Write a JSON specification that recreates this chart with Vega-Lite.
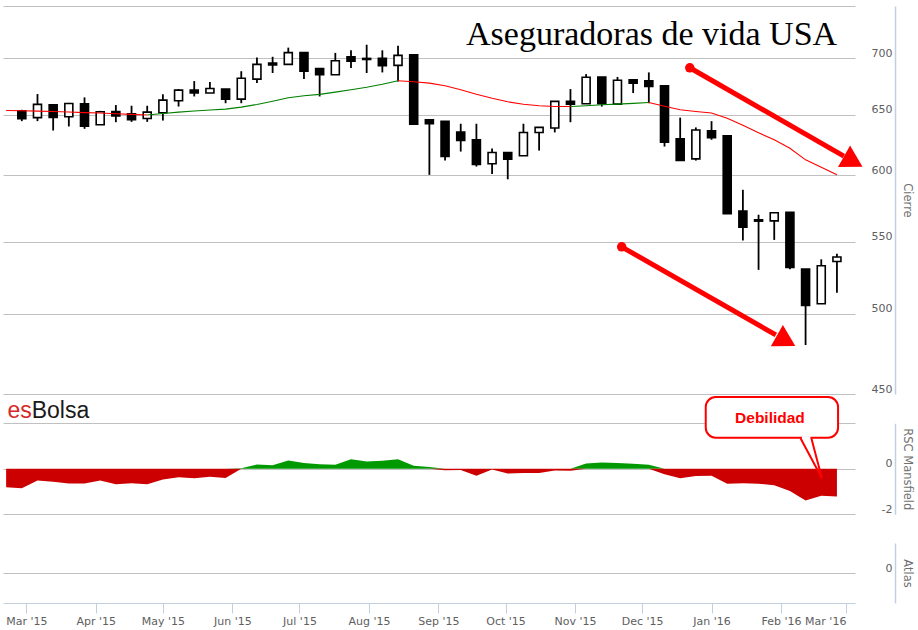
{
  "$schema": "https://vega.github.io/schema/vega-lite/v6.json",
  "width": 852,
  "height": 597,
  "autosize": {"type": "none"},
  "padding": {"left": 3, "top": 6, "right": 63, "bottom": 27},
  "background": "white",
  "config": {
    "view": {"stroke": null},
    "axis": {
      "labelFont": "DejaVu Sans", "labelFontSize": 11, "labelColor": "#606060",
      "titleFont": "DejaVu Sans", "titleFontSize": 11.5, "titleFontWeight": "normal", "titleColor": "#707070",
      "domainColor": "#C0D0E0", "tickColor": "#C0D0E0", "gridColor": "#C0C0C0", "gridWidth": 1
    },
    "axisX": {"grid": false}
  },
  "datasets": {
    "candles": [
      {"d": "2015-02-27", "o": 653.3, "h": 654.2, "l": 644.5, "c": 646.6},
      {"d": "2015-03-06", "o": 647.5, "h": 667.9, "l": 644.5, "c": 658.9},
      {"d": "2015-03-13", "o": 658.5, "h": 659.1, "l": 636.6, "c": 647.6},
      {"d": "2015-03-20", "o": 648.3, "h": 660.2, "l": 640.0, "c": 659.6},
      {"d": "2015-03-27", "o": 659.4, "h": 665.0, "l": 638.0, "c": 640.3},
      {"d": "2015-04-03", "o": 641.4, "h": 653.3, "l": 641.4, "c": 652.5},
      {"d": "2015-04-10", "o": 652.7, "h": 658.3, "l": 643.6, "c": 649.0},
      {"d": "2015-04-17", "o": 650.7, "h": 657.7, "l": 643.9, "c": 645.7},
      {"d": "2015-04-24", "o": 646.7, "h": 657.7, "l": 643.9, "c": 652.2},
      {"d": "2015-05-01", "o": 651.7, "h": 667.7, "l": 645.0, "c": 662.6},
      {"d": "2015-05-08", "o": 662.0, "h": 672.3, "l": 657.0, "c": 671.4},
      {"d": "2015-05-15", "o": 671.4, "h": 679.4, "l": 665.8, "c": 668.8},
      {"d": "2015-05-22", "o": 668.8, "h": 678.5, "l": 668.8, "c": 672.8},
      {"d": "2015-05-29", "o": 672.3, "h": 672.3, "l": 659.9, "c": 663.5},
      {"d": "2015-06-05", "o": 663.5, "h": 688.3, "l": 659.9, "c": 681.9},
      {"d": "2015-06-12", "o": 681.2, "h": 700.9, "l": 677.6, "c": 694.5},
      {"d": "2015-06-19", "o": 695.8, "h": 701.5, "l": 686.7, "c": 694.0},
      {"d": "2015-06-26", "o": 694.5, "h": 710.0, "l": 694.5, "c": 705.3},
      {"d": "2015-07-03", "o": 705.3, "h": 705.3, "l": 681.2, "c": 688.3},
      {"d": "2015-07-10", "o": 690.6, "h": 690.6, "l": 665.8, "c": 685.1},
      {"d": "2015-07-17", "o": 685.1, "h": 705.1, "l": 685.1, "c": 697.8},
      {"d": "2015-07-24", "o": 701.4, "h": 707.5, "l": 691.1, "c": 697.5},
      {"d": "2015-07-31", "o": 700.0, "h": 712.7, "l": 686.7, "c": 699.0},
      {"d": "2015-08-07", "o": 700.0, "h": 707.5, "l": 687.2, "c": 693.2},
      {"d": "2015-08-14", "o": 693.6, "h": 711.8, "l": 679.0, "c": 702.8},
      {"d": "2015-08-21", "o": 703.4, "h": 703.4, "l": 642.0, "c": 642.0},
      {"d": "2015-08-28", "o": 645.7, "h": 645.7, "l": 600.5, "c": 642.3},
      {"d": "2015-09-04", "o": 644.3, "h": 644.3, "l": 611.9, "c": 615.2},
      {"d": "2015-09-11", "o": 635.3, "h": 642.3, "l": 619.2, "c": 628.3},
      {"d": "2015-09-18", "o": 628.9, "h": 642.3, "l": 607.1, "c": 608.7},
      {"d": "2015-09-25", "o": 609.3, "h": 621.7, "l": 601.1, "c": 618.4},
      {"d": "2015-10-02", "o": 618.4, "h": 618.4, "l": 597.0, "c": 613.1},
      {"d": "2015-10-09", "o": 615.8, "h": 642.3, "l": 615.8, "c": 635.0},
      {"d": "2015-10-16", "o": 635.0, "h": 639.2, "l": 620.0, "c": 639.2},
      {"d": "2015-10-23", "o": 638.7, "h": 661.5, "l": 635.0, "c": 661.5},
      {"d": "2015-10-30", "o": 661.5, "h": 672.3, "l": 643.6, "c": 659.1},
      {"d": "2015-11-06", "o": 659.4, "h": 685.7, "l": 659.4, "c": 682.8},
      {"d": "2015-11-13", "o": 683.1, "h": 683.1, "l": 657.0, "c": 659.4},
      {"d": "2015-11-20", "o": 659.1, "h": 683.1, "l": 659.1, "c": 680.1},
      {"d": "2015-11-27", "o": 680.6, "h": 680.6, "l": 668.8, "c": 677.6},
      {"d": "2015-12-04", "o": 679.7, "h": 687.2, "l": 659.9, "c": 674.6},
      {"d": "2015-12-11", "o": 675.2, "h": 675.2, "l": 623.3, "c": 626.9},
      {"d": "2015-12-18", "o": 629.7, "h": 647.5, "l": 611.9, "c": 611.9},
      {"d": "2015-12-25", "o": 613.3, "h": 639.2, "l": 611.9, "c": 637.0},
      {"d": "2016-01-01", "o": 636.3, "h": 644.5, "l": 628.9, "c": 630.7},
      {"d": "2016-01-08", "o": 632.2, "h": 632.2, "l": 570.5, "c": 570.5},
      {"d": "2016-01-15", "o": 572.6, "h": 588.8, "l": 550.8, "c": 560.5},
      {"d": "2016-01-22", "o": 566.0, "h": 569.8, "l": 529.9, "c": 565.0},
      {"d": "2016-01-29", "o": 565.2, "h": 571.3, "l": 551.2, "c": 571.3},
      {"d": "2016-02-05", "o": 571.6, "h": 571.6, "l": 530.4, "c": 531.5},
      {"d": "2016-02-12", "o": 530.4, "h": 530.4, "l": 480.0, "c": 505.7},
      {"d": "2016-02-19", "o": 506.8, "h": 537.3, "l": 506.8, "c": 532.8},
      {"d": "2016-02-26", "o": 535.8, "h": 541.3, "l": 514.2, "c": 538.9}
    ],
    "ma": [
      {"d": "2015-02-20", "v": 653.6, "t": "down", "s": 1},
      {"d": "2015-02-27", "v": 653.4, "t": "down", "s": 1},
      {"d": "2015-03-06", "v": 653.1, "t": "down", "s": 1},
      {"d": "2015-03-13", "v": 652.8, "t": "down", "s": 1},
      {"d": "2015-03-20", "v": 652.3, "t": "down", "s": 1},
      {"d": "2015-03-27", "v": 651.8, "t": "down", "s": 1},
      {"d": "2015-04-03", "v": 651.4, "t": "down", "s": 1},
      {"d": "2015-04-10", "v": 650.8, "t": "down", "s": 1},
      {"d": "2015-04-17", "v": 650.3, "t": "down", "s": 1},
      {"d": "2015-04-24", "v": 649.7, "t": "down", "s": 1},
      {"d": "2015-04-24", "v": 649.7, "t": "up", "s": 2},
      {"d": "2015-05-01", "v": 651.0, "t": "up", "s": 2},
      {"d": "2015-05-08", "v": 652.2, "t": "up", "s": 2},
      {"d": "2015-05-15", "v": 653.2, "t": "up", "s": 2},
      {"d": "2015-05-22", "v": 654.0, "t": "up", "s": 2},
      {"d": "2015-05-29", "v": 654.8, "t": "up", "s": 2},
      {"d": "2015-06-05", "v": 656.5, "t": "up", "s": 2},
      {"d": "2015-06-12", "v": 658.8, "t": "up", "s": 2},
      {"d": "2015-06-19", "v": 661.6, "t": "up", "s": 2},
      {"d": "2015-06-26", "v": 664.7, "t": "up", "s": 2},
      {"d": "2015-07-03", "v": 666.4, "t": "up", "s": 2},
      {"d": "2015-07-10", "v": 667.6, "t": "up", "s": 2},
      {"d": "2015-07-17", "v": 669.6, "t": "up", "s": 2},
      {"d": "2015-07-24", "v": 671.7, "t": "up", "s": 2},
      {"d": "2015-07-31", "v": 673.9, "t": "up", "s": 2},
      {"d": "2015-08-07", "v": 676.6, "t": "up", "s": 2},
      {"d": "2015-08-14", "v": 679.7, "t": "up", "s": 2},
      {"d": "2015-08-14", "v": 679.7, "t": "down", "s": 3},
      {"d": "2015-08-21", "v": 678.8, "t": "down", "s": 3},
      {"d": "2015-08-28", "v": 677.6, "t": "down", "s": 3},
      {"d": "2015-09-04", "v": 675.2, "t": "down", "s": 3},
      {"d": "2015-09-11", "v": 671.7, "t": "down", "s": 3},
      {"d": "2015-09-18", "v": 667.7, "t": "down", "s": 3},
      {"d": "2015-09-25", "v": 664.2, "t": "down", "s": 3},
      {"d": "2015-10-02", "v": 661.1, "t": "down", "s": 3},
      {"d": "2015-10-09", "v": 659.0, "t": "down", "s": 3},
      {"d": "2015-10-16", "v": 657.7, "t": "down", "s": 3},
      {"d": "2015-10-23", "v": 657.1, "t": "down", "s": 3},
      {"d": "2015-10-30", "v": 657.1, "t": "down", "s": 3},
      {"d": "2015-10-30", "v": 657.1, "t": "up", "s": 4},
      {"d": "2015-11-06", "v": 657.7, "t": "up", "s": 4},
      {"d": "2015-11-13", "v": 658.5, "t": "up", "s": 4},
      {"d": "2015-11-20", "v": 659.1, "t": "up", "s": 4},
      {"d": "2015-11-27", "v": 659.8, "t": "up", "s": 4},
      {"d": "2015-12-04", "v": 660.5, "t": "up", "s": 4},
      {"d": "2015-12-04", "v": 660.5, "t": "down", "s": 5},
      {"d": "2015-12-11", "v": 657.2, "t": "down", "s": 5},
      {"d": "2015-12-18", "v": 654.2, "t": "down", "s": 5},
      {"d": "2015-12-25", "v": 652.8, "t": "down", "s": 5},
      {"d": "2016-01-01", "v": 651.4, "t": "down", "s": 5},
      {"d": "2016-01-08", "v": 646.9, "t": "down", "s": 5},
      {"d": "2016-01-15", "v": 641.0, "t": "down", "s": 5},
      {"d": "2016-01-22", "v": 634.7, "t": "down", "s": 5},
      {"d": "2016-01-29", "v": 628.9, "t": "down", "s": 5},
      {"d": "2016-02-05", "v": 621.9, "t": "down", "s": 5},
      {"d": "2016-02-12", "v": 612.5, "t": "down", "s": 5},
      {"d": "2016-02-19", "v": 606.5, "t": "down", "s": 5},
      {"d": "2016-02-26", "v": 600.5, "t": "down", "s": 5}
    ],
    "rsc": [
      {"d": "2015-02-20", "v": -0.81}, {"d": "2015-02-27", "v": -0.85}, {"d": "2015-03-06", "v": -0.51},
      {"d": "2015-03-13", "v": -0.57}, {"d": "2015-03-20", "v": -0.65}, {"d": "2015-03-27", "v": -0.65},
      {"d": "2015-04-03", "v": -0.51}, {"d": "2015-04-10", "v": -0.68}, {"d": "2015-04-17", "v": -0.63},
      {"d": "2015-04-24", "v": -0.68}, {"d": "2015-05-01", "v": -0.47}, {"d": "2015-05-08", "v": -0.37},
      {"d": "2015-05-15", "v": -0.41}, {"d": "2015-05-22", "v": -0.35}, {"d": "2015-05-29", "v": -0.40},
      {"d": "2015-06-05", "v": 0.02}, {"d": "2015-06-12", "v": 0.19}, {"d": "2015-06-19", "v": 0.16},
      {"d": "2015-06-26", "v": 0.36}, {"d": "2015-07-03", "v": 0.26}, {"d": "2015-07-10", "v": 0.20},
      {"d": "2015-07-17", "v": 0.18}, {"d": "2015-07-24", "v": 0.42}, {"d": "2015-07-31", "v": 0.32},
      {"d": "2015-08-07", "v": 0.35}, {"d": "2015-08-14", "v": 0.42}, {"d": "2015-08-21", "v": 0.13},
      {"d": "2015-08-28", "v": 0.08}, {"d": "2015-09-04", "v": -0.06}, {"d": "2015-09-11", "v": -0.05},
      {"d": "2015-09-18", "v": -0.31}, {"d": "2015-09-25", "v": -0.03}, {"d": "2015-10-02", "v": -0.21},
      {"d": "2015-10-09", "v": -0.18}, {"d": "2015-10-16", "v": -0.19}, {"d": "2015-10-23", "v": -0.07},
      {"d": "2015-10-30", "v": -0.09}, {"d": "2015-11-06", "v": 0.23}, {"d": "2015-11-13", "v": 0.28},
      {"d": "2015-11-20", "v": 0.25}, {"d": "2015-11-27", "v": 0.22}, {"d": "2015-12-04", "v": 0.18},
      {"d": "2015-12-11", "v": -0.24}, {"d": "2015-12-18", "v": -0.41}, {"d": "2015-12-25", "v": -0.32},
      {"d": "2016-01-01", "v": -0.31}, {"d": "2016-01-08", "v": -0.66}, {"d": "2016-01-15", "v": -0.63},
      {"d": "2016-01-22", "v": -0.66}, {"d": "2016-01-29", "v": -0.72}, {"d": "2016-02-05", "v": -0.98},
      {"d": "2016-02-12", "v": -1.39}, {"d": "2016-02-19", "v": -1.19}, {"d": "2016-02-26", "v": -1.22}
    ],
    "arrowLines": [
      {"a": 1, "o": 1, "d": "2015-12-22T07:00:00Z", "p": 691.4},
      {"a": 1, "o": 2, "d": "2016-02-29T02:00:00Z", "p": 615.5},
      {"a": 2, "o": 1, "d": "2015-11-21T21:00:00Z", "p": 546.2},
      {"a": 2, "o": 2, "d": "2016-01-29T17:00:00Z", "p": 486.4}
    ],
    "arrowStarts": [
      {"d": "2015-12-22T07:00:00Z", "p": 691.4},
      {"d": "2015-11-21T21:00:00Z", "p": 546.2}
    ],
    "arrowHeads": [
      {"d": "2016-03-04T07:00:00Z", "p": 611.2},
      {"d": "2016-02-03T07:00:00Z", "p": 482.6}
    ]
  },
  "resolve": {"scale": {"y": "independent"}, "axis": {"y": "independent", "x": "independent"}},
  "layer": [
    {
      "mark": {"type": "rule", "strokeOpacity": 0},
      "encoding": {
        "y": {"datum": 600, "type": "quantitative",
          "scale": {"type": "log", "domain": [450, 750], "range": [388, 0]},
          "axis": {
            "orient": "right", "offset": 40, "values": [450, 500, 550, 600, 650, 700, 750],
            "labelExpr": "datum.value >= 740 ? '' : format(datum.value, 'd')",
            "grid": true, "ticks": false, "tickSize": 0, "labelPadding": -3, "labelAlign": "right",
            "labelBaseline": "alphabetic", "labelOffset": -2, "title": "Cierre", "titlePadding": 6,
            "domainColor": "#C0D0E0", "domainWidth": 1.5
          }
        }
      }
    },
    {
      "mark": {"type": "rule", "strokeOpacity": 0},
      "encoding": {
        "y": {"datum": 0, "type": "quantitative",
          "scale": {"domain": [-2, 2], "range": [508.3, 417.3]},
          "axis": {
            "orient": "right", "offset": 40, "values": [-2, 0, 2],
            "labelExpr": "datum.value > 1 ? '' : toString(datum.value)",
            "grid": true, "ticks": false, "tickSize": 0, "labelPadding": -3, "labelAlign": "right",
            "labelBaseline": "alphabetic", "labelOffset": -2, "title": "RSC Mansfield", "titlePadding": 6,
            "domainColor": "#C0D0E0", "domainWidth": 1.5
          }
        }
      }
    },
    {
      "mark": {"type": "rule", "strokeOpacity": 0},
      "encoding": {
        "y": {"datum": 0, "type": "quantitative",
          "scale": {"domain": [-1, 1], "range": [597, 537]},
          "axis": {
            "orient": "right", "offset": 40, "values": [0],
            "labelExpr": "toString(datum.value)",
            "grid": true, "ticks": false, "tickSize": 0, "labelPadding": -3, "labelAlign": "right",
            "labelBaseline": "alphabetic", "labelOffset": -2, "title": "Atlas", "titlePadding": 6,
            "domainColor": "#C0D0E0", "domainWidth": 1.5
          }
        }
      }
    },
    {
      "mark": {"type": "rule", "strokeOpacity": 0},
      "encoding": {
        "x": {"datum": {"year": 2015, "month": 6, "date": 1, "utc": true}, "type": "temporal",
          "scale": {"type": "utc", "domain": [{"year": 2015, "month": 2, "date": 20, "hours": 20, "utc": true}, {"year": 2016, "month": 3, "date": 2, "hours": 20, "utc": true}]},
          "axis": {
            "orient": "bottom",
            "values": [
              {"year": 2015, "month": 3, "date": 1, "utc": true}, {"year": 2015, "month": 4, "date": 1, "utc": true},
              {"year": 2015, "month": 5, "date": 1, "utc": true}, {"year": 2015, "month": 6, "date": 1, "utc": true},
              {"year": 2015, "month": 7, "date": 1, "utc": true}, {"year": 2015, "month": 8, "date": 1, "utc": true},
              {"year": 2015, "month": 9, "date": 1, "utc": true}, {"year": 2015, "month": 10, "date": 1, "utc": true},
              {"year": 2015, "month": 11, "date": 1, "utc": true}, {"year": 2015, "month": 12, "date": 1, "utc": true},
              {"year": 2016, "month": 1, "date": 1, "utc": true}, {"year": 2016, "month": 2, "date": 1, "utc": true},
              {"year": 2016, "month": 3, "date": 1, "utc": true}
            ],
            "labelExpr": "utcFormat(datum.value, \"%b '%y\")",
            "labelAlign": {"condition": {"test": "datum.value > utc(2016, 1, 15)", "value": "right"}, "value": "center"},
            "tickSize": 10, "labelPadding": 2, "labelFlush": false, "labelOverlap": false,
            "title": null, "grid": false, "domainColor": "#C0D0E0", "tickColor": "#C0D0E0"
          }
        }
      }
    },
    {
      "layer": [
        {
          "data": {"name": "candles"},
          "mark": {"type": "rule", "color": "#000000", "strokeWidth": 1.8},
          "encoding": {
            "x": {"field": "d", "type": "temporal",
              "scale": {"type": "utc", "domain": [{"year": 2015, "month": 2, "date": 20, "hours": 20, "utc": true}, {"year": 2016, "month": 3, "date": 2, "hours": 20, "utc": true}]},
              "axis": null},
            "y": {"field": "l", "type": "quantitative", "scale": {"type": "log", "domain": [450, 750], "range": [388, 0]}, "axis": null},
            "y2": {"field": "h"}
          }
        },
        {
          "data": {"name": "candles"},
          "mark": {"type": "bar", "size": 8, "stroke": "#000000", "strokeWidth": 1.6},
          "encoding": {
            "x": {"field": "d", "type": "temporal",
              "scale": {"type": "utc", "domain": [{"year": 2015, "month": 2, "date": 20, "hours": 20, "utc": true}, {"year": 2016, "month": 3, "date": 2, "hours": 20, "utc": true}]},
              "axis": null},
            "y": {"field": "o", "type": "quantitative", "scale": {"type": "log", "domain": [450, 750], "range": [388, 0]}, "axis": null},
            "y2": {"field": "c"},
            "fill": {"condition": {"test": "datum.c < datum.o", "value": "#000000"}, "value": "#ffffff"}
          }
        },
        {
          "data": {"name": "ma"},
          "mark": {"type": "line", "strokeWidth": 1.1, "clip": true},
          "encoding": {
            "x": {"field": "d", "type": "temporal",
              "scale": {"type": "utc", "domain": [{"year": 2015, "month": 2, "date": 20, "hours": 20, "utc": true}, {"year": 2016, "month": 3, "date": 2, "hours": 20, "utc": true}]},
              "axis": null},
            "y": {"field": "v", "type": "quantitative", "scale": {"type": "log", "domain": [450, 750], "range": [388, 0]}, "axis": null},
            "color": {"field": "t", "type": "nominal", "scale": {"domain": ["down", "up"], "range": ["#FF0000", "#008000"]}, "legend": null},
            "detail": {"field": "s", "type": "nominal"}
          }
        },
        {
          "data": {"values": [{"d": "2016-02-26T02:00:00Z", "p": 712.7, "label": "Aseguradoras de vida USA"}]},
          "mark": {"type": "text", "font": "Liberation Serif", "fontSize": 34, "align": "right", "baseline": "alphabetic", "color": "#000000"},
          "encoding": {
            "x": {"field": "d", "type": "temporal",
              "scale": {"type": "utc", "domain": [{"year": 2015, "month": 2, "date": 20, "hours": 20, "utc": true}, {"year": 2016, "month": 3, "date": 2, "hours": 20, "utc": true}]},
              "axis": null},
            "y": {"field": "p", "type": "quantitative", "scale": {"type": "log", "domain": [450, 750], "range": [388, 0]}, "axis": null},
            "text": {"field": "label"}
          }
        },
        {
          "data": {"name": "arrowLines"},
          "mark": {"type": "line", "color": "#FF0000", "strokeWidth": 5},
          "encoding": {
            "x": {"field": "d", "type": "temporal",
              "scale": {"type": "utc", "domain": [{"year": 2015, "month": 2, "date": 20, "hours": 20, "utc": true}, {"year": 2016, "month": 3, "date": 2, "hours": 20, "utc": true}]},
              "axis": null},
            "y": {"field": "p", "type": "quantitative", "scale": {"type": "log", "domain": [450, 750], "range": [388, 0]}, "axis": null},
            "detail": {"field": "a", "type": "nominal"},
            "order": {"field": "o", "type": "quantitative"}
          }
        },
        {
          "data": {"name": "arrowStarts"},
          "mark": {"type": "point", "shape": "circle", "filled": true, "color": "#FF0000", "size": 90, "opacity": 1},
          "encoding": {
            "x": {"field": "d", "type": "temporal",
              "scale": {"type": "utc", "domain": [{"year": 2015, "month": 2, "date": 20, "hours": 20, "utc": true}, {"year": 2016, "month": 3, "date": 2, "hours": 20, "utc": true}]},
              "axis": null},
            "y": {"field": "p", "type": "quantitative", "scale": {"type": "log", "domain": [450, 750], "range": [388, 0]}, "axis": null}
          }
        },
        {
          "data": {"name": "arrowHeads"},
          "mark": {"type": "point", "shape": "triangle-right", "angle": 29.5, "filled": true, "color": "#FF0000", "size": 600, "opacity": 1},
          "encoding": {
            "x": {"field": "d", "type": "temporal",
              "scale": {"type": "utc", "domain": [{"year": 2015, "month": 2, "date": 20, "hours": 20, "utc": true}, {"year": 2016, "month": 3, "date": 2, "hours": 20, "utc": true}]},
              "axis": null},
            "y": {"field": "p", "type": "quantitative", "scale": {"type": "log", "domain": [450, 750], "range": [388, 0]}, "axis": null}
          }
        }
      ]
    },
    {
      "data": {"name": "rsc"},
      "mark": {"type": "area", "color": "#009900", "clip": true, "opacity": 1},
      "encoding": {
        "x": {"field": "d", "type": "temporal",
          "scale": {"type": "utc", "domain": [{"year": 2015, "month": 2, "date": 20, "hours": 20, "utc": true}, {"year": 2016, "month": 3, "date": 2, "hours": 20, "utc": true}]},
          "axis": null},
        "y": {"field": "v", "type": "quantitative", "scale": {"domain": [0, 2], "range": [462.8, 417.3], "clamp": true}, "axis": null},
        "y2": {"datum": 0}
      }
    },
    {
      "data": {"name": "rsc"},
      "mark": {"type": "area", "color": "#CC0000", "clip": true, "opacity": 1},
      "encoding": {
        "x": {"field": "d", "type": "temporal",
          "scale": {"type": "utc", "domain": [{"year": 2015, "month": 2, "date": 20, "hours": 20, "utc": true}, {"year": 2016, "month": 3, "date": 2, "hours": 20, "utc": true}]},
          "axis": null},
        "y": {"field": "v", "type": "quantitative", "scale": {"domain": [-2, 0], "range": [508.3, 462.8], "clamp": true}, "axis": null},
        "y2": {"datum": 0}
      }
    },
    {
      "layer": [
        {
          "data": {"values": [{"d1": "2015-12-29T10:00:00Z", "d2": "2016-02-26T12:00:00Z", "v1": 3.156, "v2": 1.367}]},
          "mark": {"type": "rect", "fill": "#ffffff", "stroke": "#FF0000", "strokeWidth": 2, "cornerRadius": 10},
          "encoding": {
            "x": {"field": "d1", "type": "temporal",
              "scale": {"type": "utc", "domain": [{"year": 2015, "month": 2, "date": 20, "hours": 20, "utc": true}, {"year": 2016, "month": 3, "date": 2, "hours": 20, "utc": true}]},
              "axis": null},
            "x2": {"field": "d2"},
            "y": {"field": "v1", "type": "quantitative", "scale": {"domain": [-2, 2], "range": [508.3, 417.3]}, "axis": null},
            "y2": {"field": "v2"}
          }
        },
        {
          "data": {"values": [
            {"d": "2016-02-10T08:00:00Z", "v": 1.367, "o": 1},
            {"d": "2016-02-14T04:00:00Z", "v": 1.367, "o": 2}
          ]},
          "mark": {"type": "line", "color": "#ffffff", "strokeWidth": 3},
          "encoding": {
            "x": {"field": "d", "type": "temporal",
              "scale": {"type": "utc", "domain": [{"year": 2015, "month": 2, "date": 20, "hours": 20, "utc": true}, {"year": 2016, "month": 3, "date": 2, "hours": 20, "utc": true}]},
              "axis": null},
            "y": {"field": "v", "type": "quantitative", "scale": {"domain": [-2, 2], "range": [508.3, 417.3]}, "axis": null},
            "order": {"field": "o", "type": "quantitative"}
          }
        },
        {
          "data": {"values": [
            {"d": "2016-02-09T18:00:00Z", "v": 1.34, "o": 1},
            {"d": "2016-02-19T07:00:00Z", "v": -0.418, "o": 2},
            {"d": "2016-02-14T14:00:00Z", "v": 1.34, "o": 3}
          ]},
          "mark": {"type": "line", "color": "#FF0000", "strokeWidth": 2},
          "encoding": {
            "x": {"field": "d", "type": "temporal",
              "scale": {"type": "utc", "domain": [{"year": 2015, "month": 2, "date": 20, "hours": 20, "utc": true}, {"year": 2016, "month": 3, "date": 2, "hours": 20, "utc": true}]},
              "axis": null},
            "y": {"field": "v", "type": "quantitative", "scale": {"domain": [-2, 2], "range": [508.3, 417.3]}, "axis": null},
            "order": {"field": "o", "type": "quantitative"}
          }
        },
        {
          "data": {"values": [{"d": "2016-01-27T02:00:00Z", "v": 2.026, "label": "Debilidad"}]},
          "mark": {"type": "text", "font": "Liberation Sans", "fontSize": 15.5, "fontWeight": "bold", "color": "#FF0000", "align": "center", "baseline": "alphabetic"},
          "encoding": {
            "x": {"field": "d", "type": "temporal",
              "scale": {"type": "utc", "domain": [{"year": 2015, "month": 2, "date": 20, "hours": 20, "utc": true}, {"year": 2016, "month": 3, "date": 2, "hours": 20, "utc": true}]},
              "axis": null},
            "y": {"field": "v", "type": "quantitative", "scale": {"domain": [-2, 2], "range": [508.3, 417.3]}, "axis": null},
            "text": {"field": "label"}
          }
        },
        {
          "data": {"values": [{"d": "2015-03-03T10:00:00Z", "v": 2.22, "label": "es"}]},
          "mark": {"type": "text", "font": "Liberation Sans", "fontSize": 23, "color": "#D62828", "align": "right", "baseline": "alphabetic"},
          "encoding": {
            "x": {"field": "d", "type": "temporal",
              "scale": {"type": "utc", "domain": [{"year": 2015, "month": 2, "date": 20, "hours": 20, "utc": true}, {"year": 2016, "month": 3, "date": 2, "hours": 20, "utc": true}]},
              "axis": null},
            "y": {"field": "v", "type": "quantitative", "scale": {"domain": [-2, 2], "range": [508.3, 417.3]}, "axis": null},
            "text": {"field": "label"}
          }
        },
        {
          "data": {"values": [{"d": "2015-03-03T10:00:00Z", "v": 2.22, "label": "Bolsa"}]},
          "mark": {"type": "text", "font": "Liberation Sans", "fontSize": 23, "color": "#1A1A1A", "align": "left", "baseline": "alphabetic"},
          "encoding": {
            "x": {"field": "d", "type": "temporal",
              "scale": {"type": "utc", "domain": [{"year": 2015, "month": 2, "date": 20, "hours": 20, "utc": true}, {"year": 2016, "month": 3, "date": 2, "hours": 20, "utc": true}]},
              "axis": null},
            "y": {"field": "v", "type": "quantitative", "scale": {"domain": [-2, 2], "range": [508.3, 417.3]}, "axis": null},
            "text": {"field": "label"}
          }
        }
      ]
    }
  ]
}
